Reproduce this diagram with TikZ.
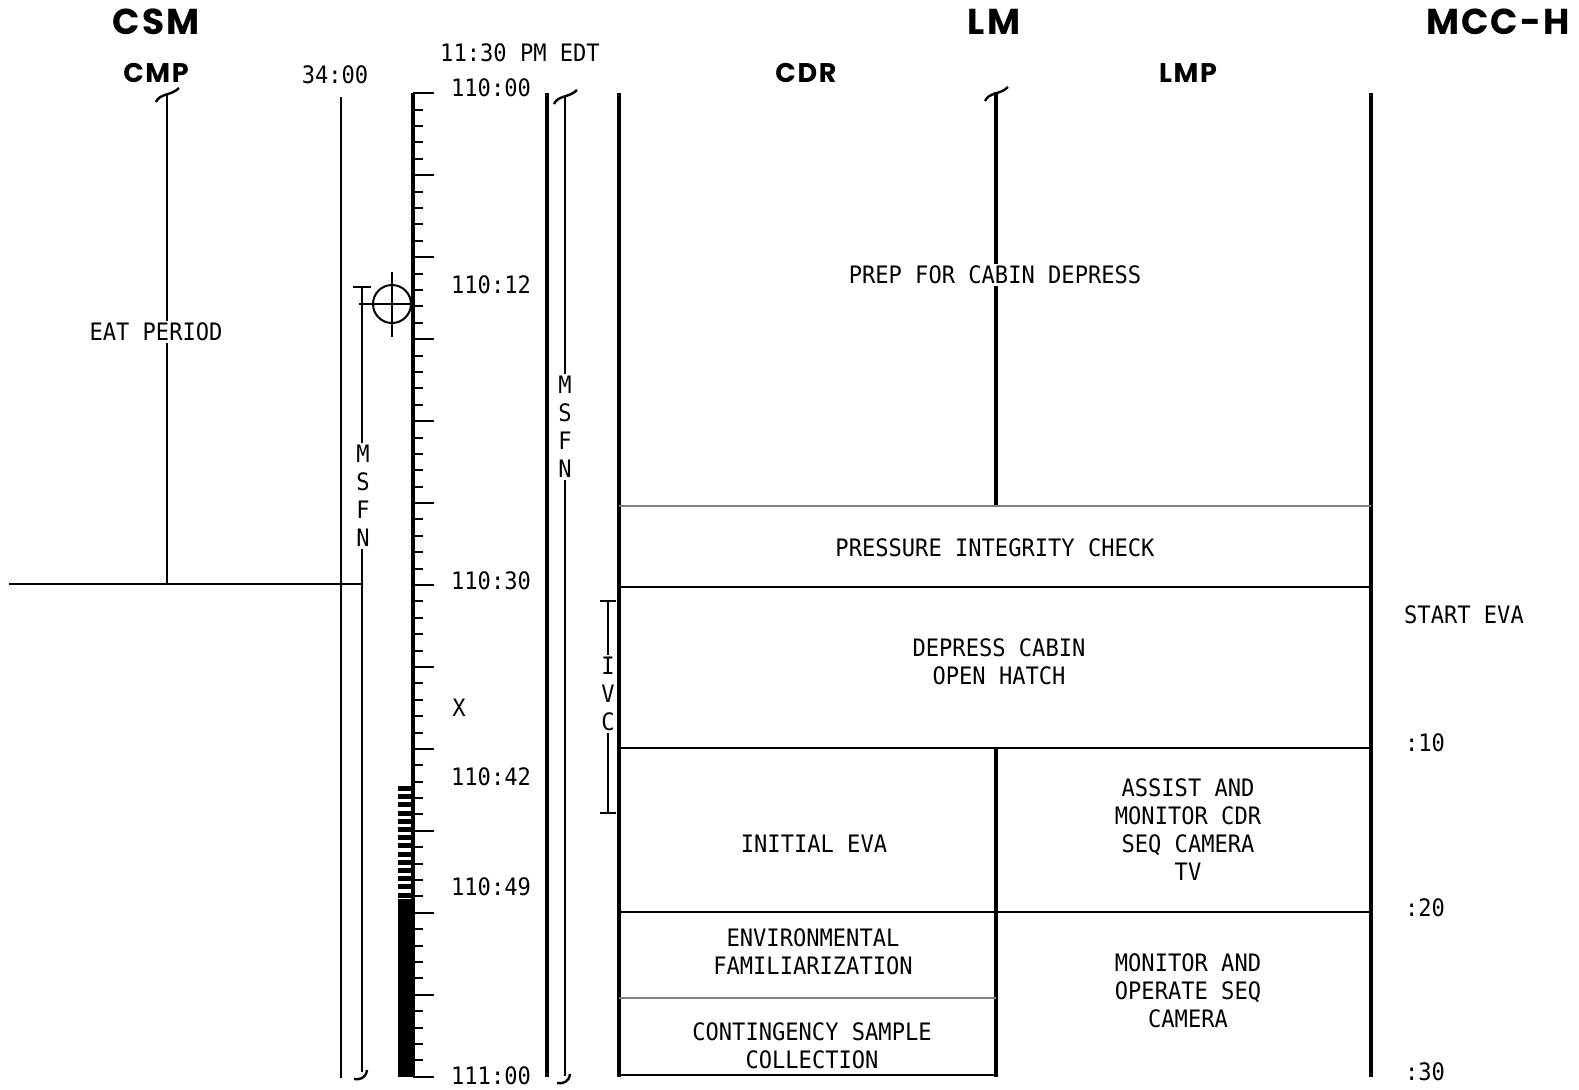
\documentclass[tikz,border=0pt]{standalone}
\usepackage{fontspec}
\newfontfamily\typefont[FakeStretch=0.92]{DejaVu Sans Mono}
\newfontfamily\headfont[LetterSpace=6]{Poppins}
\begin{document}
\begin{tikzpicture}[x=0.5pt,y=-0.5pt,
  txt/.style={font={\typefont\fontsize{12}{14}\selectfont},align=center,inner sep=1pt},
  head/.style={font={\headfont\bfseries\fontsize{18}{18}\selectfont}},
  subhead/.style={font={\headfont\bfseries\fontsize{13.5}{14}\selectfont}},
  heavy/.style={line width=1.6pt},
  light/.style={line width=1pt},
  brktop/.pic={\draw[line width=1.2pt] (-11,9) .. controls (-7,0) and (4,3) .. (12,-5);},
  brkbot/.pic={\draw[line width=1.2pt] (-8,7) .. controls (-2,8) and (4,6) .. (5,-2);}]
\useasboundingbox (0,0) rectangle (1579,1089);
% headings
\node[head] (csm) at (156,22) {CSM};
\node[head] (lm) at (994,22) {LM};
\node[head] (mcch) at (1498,22) {MCC-H};
\node[subhead] (cmp) at (156,73) {CMP};
\node[subhead] (cdr) at (806,73) {CDR};
\node[subhead] (lmp) at (1188,73) {LMP};
% CSM column
\draw[light] (167,93) -- (167,584);
\pic at (167,93) {brktop};
\node[txt,fill=white] (eat) at (156,332) {EAT PERIOD};
\draw[light] (9,584) -- (362,584);
\node[txt] (met) at (335,75) {34:00};
\draw[light] (341,97) -- (341,1078);
\draw[light] (353,287) -- (371,287) (362,287) -- (362,1072);
\pic at (362,1072) {brkbot};
\node[txt,fill=white] (msfnl) at (363,496) {M\\S\\F\\N};
\draw[light] (392,304) circle (19);
\draw[light] (359,304) -- (413,304) (392,272) -- (392,337);
% time scale
\fill (398,899) rectangle (413,1077);
\foreach \k in {0,...,13}
  \fill (398,{786+8.2*\k}) rectangle (412,{786+8.2*\k+5});
\draw[heavy] (413,93) -- (413,1077);
\foreach \m in {0,...,60}
  \draw[light] (413,{93.3+16.39*\m}) -- (423,{93.3+16.39*\m});
\foreach \m in {0,5,...,60}
  \draw[light] (413,{93.3+16.39*\m}) -- (434,{93.3+16.39*\m});
\node[txt] (edt) at (520,53) {11:30 PM EDT};
\foreach \t/\y in {110:00/88,110:12/285,110:30/581,110:42/777,110:49/887,111:00/1076}
  \node[txt] (time\y) at (491,\y) {\t};
\node[txt] (xmark) at (459,708) {X};
\draw[heavy] (547,93) -- (547,1077);
\draw[light] (565,95) -- (565,1076);
\pic at (565,95) {brktop};
\pic at (565,1076) {brkbot};
\node[txt,fill=white] (msfnr) at (565,427) {M\\S\\F\\N};
\draw[light] (600,601) -- (616,601) (608,601) -- (608,813) (600,813) -- (616,813);
\node[txt,fill=white] (ivc) at (608,694) {I\\V\\C};
% LM columns
\draw[heavy] (619,93) -- (619,1077);
\draw[heavy] (1371,93) -- (1371,1077);
\draw[heavy] (996,92) -- (996,506);
\pic at (996,92) {brktop};
\draw[heavy] (996,748) -- (996,1077);
\draw[light,gray] (619,506) -- (1371,506);
\draw[light] (619,587) -- (1371,587);
\draw[light] (619,748) -- (1371,748);
\draw[light] (619,912) -- (1371,912);
\draw[light,gray] (619,998) -- (996,998);
\draw[light] (619,1075) -- (996,1075);
\node[txt,fill=white] (prep) at (995,275) {PREP FOR CABIN DEPRESS};
\node[txt] (pic) at (995,548) {PRESSURE INTEGRITY CHECK};
\node[txt] (depress) at (999,662) {DEPRESS CABIN\\OPEN HATCH};
\node[txt] (initial) at (814,844) {INITIAL EVA};
\node[txt] (assist) at (1188,830) {ASSIST AND\\MONITOR CDR\\SEQ CAMERA\\TV};
\node[txt] (env) at (813,952) {ENVIRONMENTAL\\FAMILIARIZATION};
\node[txt] (monitor) at (1188,991) {MONITOR AND\\OPERATE SEQ\\CAMERA};
\node[txt] (sample) at (812,1046) {CONTINGENCY SAMPLE\\COLLECTION};
% MCC-H column
\node[txt] (start) at (1464,615) {START EVA};
\node[txt] (m10) at (1425,743) {:10};
\node[txt] (m20) at (1425,908) {:20};
\node[txt] (m30) at (1425,1072) {:30};
\end{tikzpicture}
\end{document}
